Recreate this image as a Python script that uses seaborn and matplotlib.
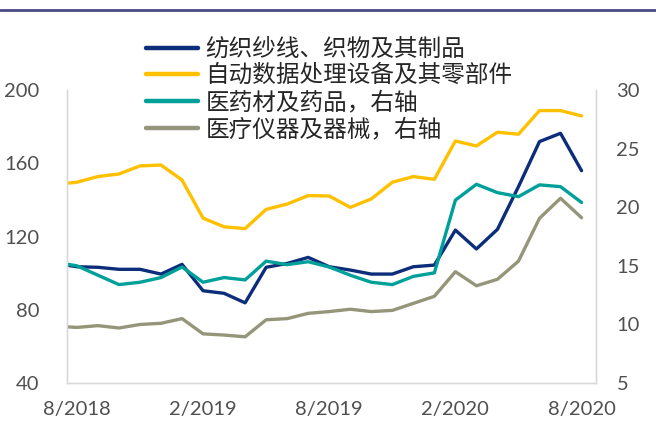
import pandas as pd
import matplotlib
matplotlib.use('Agg')
import matplotlib.pyplot as plt
import seaborn as sns
from matplotlib.lines import Line2D

# Monthly series, 7/2018 .. 8/2020 (7/2018 sits just outside the plotted range)
months = ['7/2018', '8/2018', '9/2018', '10/2018', '11/2018', '12/2018', '1/2019', '2/2019', '3/2019',
          '4/2019', '5/2019', '6/2019', '7/2019', '8/2019', '9/2019', '10/2019', '11/2019', '12/2019',
          '1/2020', '2/2020', '3/2020', '4/2020', '5/2020', '6/2020', '7/2020', '8/2020']
tick_labels = ['8/2018', '2/2019', '8/2019', '2/2020', '8/2020']

textile = [105.3, 103.5, 103.2, 102.1, 102.1, 99.5, 104.8, 90.4, 89.0, 83.8, 103.2, 105.3, 108.6,
           103.5, 101.7, 99.5, 99.5, 103.5, 104.4, 123.5, 113.2, 123.9, 147.2, 171.8, 176.3, 155.9]
computers = [148.5, 149.6, 152.7, 154.1, 158.5, 159.0, 150.8, 130.0, 125.3, 124.3, 134.8, 137.7, 142.3,
             142.1, 135.9, 140.5, 149.6, 152.7, 151.2, 172.1, 169.4, 176.9, 175.8, 188.7, 188.7, 185.8]
# right axis
pharma = [15.3, 15.0, 14.2, 13.4, 13.6, 14.0, 14.9, 13.6, 14.0, 13.8, 15.4, 15.1, 15.35,
          14.9, 14.2, 13.6, 13.4, 14.1, 14.4, 20.6, 21.95, 21.24, 20.9, 21.9, 21.75, 20.4]
devices = [9.85, 9.75, 9.9, 9.7, 10.0, 10.1, 10.5, 9.2, 9.1, 8.95, 10.4, 10.5, 10.95,
           11.1, 11.3, 11.1, 11.2, 11.8, 12.4, 14.5, 13.3, 13.85, 15.4, 19.05, 20.76, 19.1]

labels = ['纺织纱线、织物及其制品', '自动数据处理设备及其零部件', '医药材及药品，右轴', '医疗仪器及器械，右轴']
colors = ['#0B2D7A', '#FFC000', '#00A09A', '#95957A']

df = pd.DataFrame({'month': months, 'textile': textile, 'computers': computers,
                   'pharma': pharma, 'devices': devices})
df['pos'] = range(-1, len(months) - 1)

sns.set_theme(style='white')
plt.rcParams['font.family'] = ['Lato', 'Noto Sans CJK SC', 'DejaVu Sans']

fig = plt.figure(figsize=(6.56, 4.30), dpi=100)
ax = fig.add_axes([0.102, 0.109, 0.806, 0.682])
ax2 = ax.twinx()

lw = 2.4
sns.lineplot(data=df, x='pos', y='textile', ax=ax, color=colors[0], linewidth=lw)
sns.lineplot(data=df, x='pos', y='computers', ax=ax, color=colors[1], linewidth=lw)
sns.lineplot(data=df, x='pos', y='pharma', ax=ax2, color=colors[2], linewidth=lw)
sns.lineplot(data=df, x='pos', y='devices', ax=ax2, color=colors[3], linewidth=lw)

ax.set_xlim(-0.475, 24.67)
ax.set_ylim(40, 200)
ax2.set_ylim(5, 30)
ax.set_yticks([40, 80, 120, 160, 200])
ax2.set_yticks([5, 10, 15, 20, 25, 30])
ax.set_xticks([0, 6, 12, 18, 24])
ax.set_xticklabels(tick_labels)
for a in (ax, ax2):
    a.set_xlabel('')
    a.set_ylabel('')
    a.tick_params(length=0, labelsize=14.5, labelcolor='#505050')
    for side, sp in a.spines.items():
        sp.set_color('#D9D9D9')
        sp.set_linewidth(1)
    a.spines['top'].set_visible(False)
ax.tick_params(axis='x', pad=13)
ax.tick_params(axis='y', pad=20)
ax2.tick_params(axis='y', pad=15)

handles = [Line2D([], [], color=c, linewidth=3.2) for c in colors]
fig.legend(handles, labels, loc='upper left', bbox_to_anchor=(0.205, 0.94), frameon=False,
           fontsize=17, labelspacing=0.17, handlelength=2.2, handletextpad=0.3, borderpad=0,
           labelcolor='#262626')

# dark rule along the top edge
fig.add_artist(Line2D([0, 1], [0.977, 0.977], color='#4B4A86', linewidth=2, transform=fig.transFigure))

fig.savefig('out.png', dpi=100)
